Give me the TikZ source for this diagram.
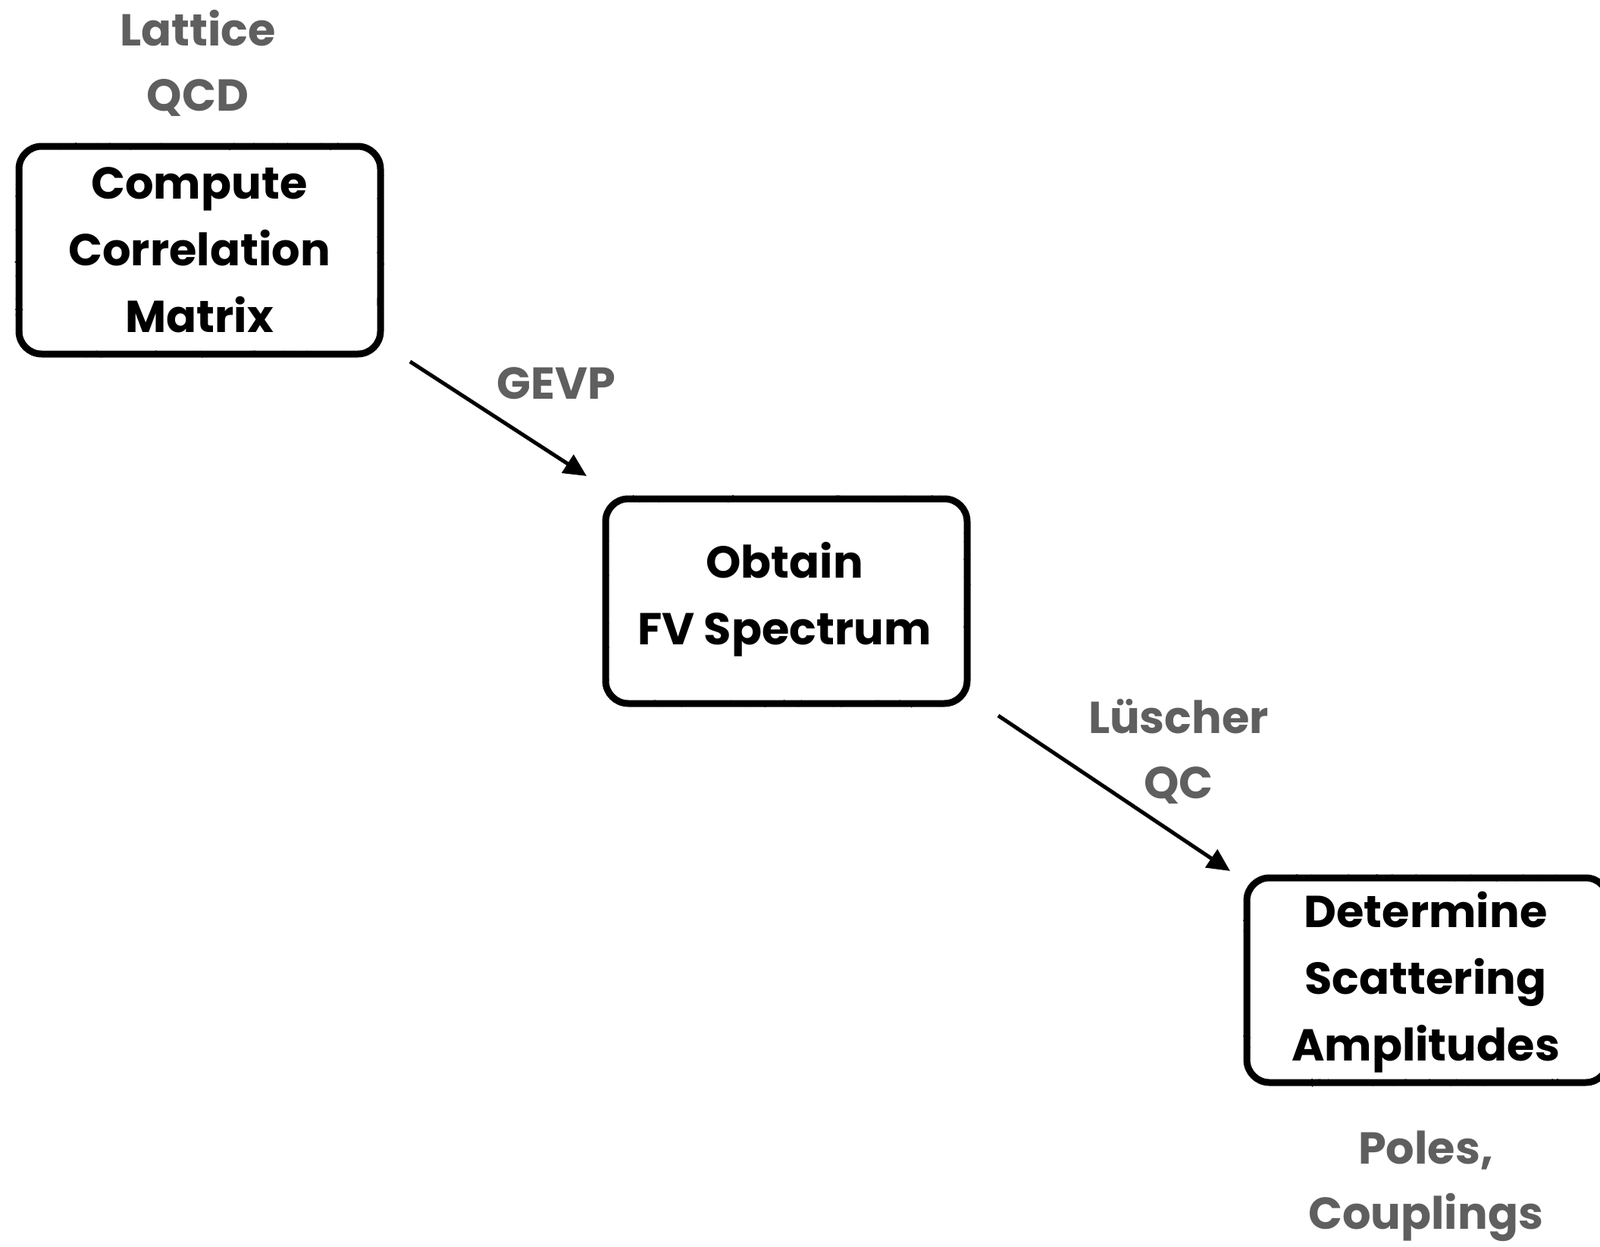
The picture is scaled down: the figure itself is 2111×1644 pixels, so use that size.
\documentclass[tikz,border=0pt]{standalone}
\usepackage{fontspec}
\setmainfont{Poppins Bold}
\usetikzlibrary{arrows.meta,decorations.pathmorphing}
\definecolor{labgray}{HTML}{5F5F5F}
\tikzset{
  boxtext/.style={align=center,font=\fontsize{59}{88}\selectfont,text=black},
  labtext/.style={align=center,font=\fontsize{59}{86}\selectfont,text=labgray},
  flowarrow/.style={line width=5pt,-{Triangle[length=30pt,width=28pt]}},
  roughbox/.style={line width=9pt,rounded corners=30pt},
  roughedge/.style={line width=3pt,decorate,decoration={random steps,segment length=5pt,amplitude=3pt}}
}
\begin{document}
\begin{tikzpicture}[x=1pt,y=-1pt]
\useasboundingbox (0,0) rectangle (2111,1644);
% boxes
\foreach \nm/\xa/\ya/\xb/\yb in {b1/25/193/502/467, b2/799/658/1276/928, b3/1645/1158/2122/1428}{
  \draw[roughbox] (\xa,\ya) rectangle (\xb,\yb);
  \draw[roughedge] (\xa+28,\ya) -- (\xb-28,\ya);
  \draw[roughedge] (\xa+28,\yb) -- (\xb-28,\yb);
  \draw[roughedge] (\xa,\ya+28) -- (\xa,\yb-28);
  \draw[roughedge] (\xb,\ya+28) -- (\xb,\yb-28);
}
\node[boxtext] (box1) at (263,330) {Compute\\Correlation\\Matrix};
\node[boxtext] (box2) at (1035,791) {Obtain\\FV Spectrum};
\node[boxtext] (box3) at (1881,1296) {Determine\\Scattering\\Amplitudes};
% labels
\node[labtext] (lqcd) at (261,83) {Lattice\\QCD};
\node[labtext] (gevp) at (734,506) {GEVP};
\node[labtext] (lqc) at (1555,991) {Lüscher\\QC};
\node[labtext] (poles) at (1881,1565) {Poles,\\Couplings};
% arrows
\coordinate (a1s) at (541,477);
\coordinate (a1e) at (774,628);
\coordinate (a2s) at (1317,944);
\coordinate (a2e) at (1623,1149);
\draw[flowarrow] (a1s) -- (a1e);
\draw[flowarrow] (a2s) -- (a2e);
\end{tikzpicture}
\end{document}
